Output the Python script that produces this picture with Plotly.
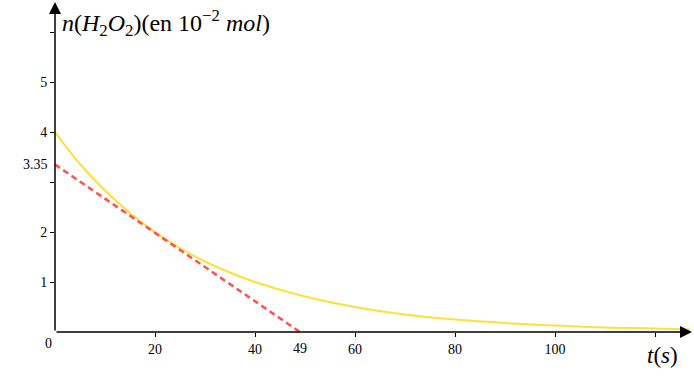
import plotly.graph_objects as go

# Data
t_curve = [0, 5, 10, 15, 20, 25, 30, 35, 40, 50, 60, 70, 80, 90, 100, 110, 120, 127]
n_curve = [4.0, 3.36, 2.83, 2.38, 2.0, 1.68, 1.41, 1.19, 1.0, 0.71, 0.5, 0.35, 0.25, 0.18, 0.13, 0.09, 0.07, 0.05]
t_tangent = [0, 49]
n_tangent = [3.35, 0]

x_ticks = [20, 40, 60, 80, 100, 120]
x_ticktext = ["20", "40", "60", "80", "100", ""]
y_ticks = [1, 2, 3, 4, 5, 6]
y_ticktext = ["1", "2", "", "4", "5", ""]

X_MAX = 127.4
Y_MAX = 6.6

SERIF = "'Liberation Serif', 'Times New Roman', 'DejaVu Serif', serif"

fig = go.Figure()
fig.add_trace(go.Scatter(x=t_curve, y=n_curve, mode="lines",
                         line=dict(color="#FFDF3C", width=2, shape="spline"),
                         hoverinfo="skip", showlegend=False))
fig.add_trace(go.Scatter(x=t_tangent, y=n_tangent, mode="lines",
                         line=dict(color="#FF4F4F", width=2.5, dash="6px,4px"),
                         hoverinfo="skip", showlegend=False))

axis_common = dict(showgrid=False, zeroline=False, showline=False,
                   ticks="outside", ticklen=4, tickwidth=1, tickcolor="black",
                   tickfont=dict(family=SERIF, size=14, color="black"))
fig.update_xaxes(range=[0, X_MAX], tickvals=x_ticks, ticktext=x_ticktext, **axis_common)
fig.update_yaxes(range=[0, Y_MAX], tickvals=y_ticks, ticktext=y_ticktext, **axis_common)

annotations = [
    # x axis with arrow
    dict(x=X_MAX, y=0, ax=0, ay=0, xref="x", yref="y", axref="x", ayref="y",
         showarrow=True, arrowhead=2, arrowsize=1.6, arrowwidth=1.5, arrowcolor="black", text=""),
    # y axis with arrow
    dict(x=0, y=Y_MAX, ax=0, ay=0, xref="x", yref="y", axref="x", ayref="y",
         showarrow=True, arrowhead=2, arrowsize=1.6, arrowwidth=1.5, arrowcolor="black", text=""),
    dict(x=0, y=0, xref="x", yref="y", text="0", showarrow=False, xshift=-7, yshift=-11,
         font=dict(family=SERIF, size=14, color="black")),
    dict(x=49, y=0, xref="x", yref="y", text="49", showarrow=False, yanchor="top", yshift=-7,
         font=dict(family=SERIF, size=14, color="black")),
    dict(x=0, y=3.35, xref="x", yref="y", text="3.35", showarrow=False, xanchor="right", xshift=-5,
         font=dict(family=SERIF, size=14, color="black")),
    dict(x=0, y=Y_MAX, xref="x", yref="y", xanchor="left", yanchor="top", xshift=5, yshift=-2,
         text="<i>n</i>(<i>H</i><sub>2</sub><i>O</i><sub>2</sub>)(en 10<sup>−2</sup> <i>mol</i>)",
         showarrow=False, font=dict(family=SERIF, size=24, color="black")),
    dict(x=X_MAX, y=0, xref="x", yref="y", xanchor="right", yanchor="top", xshift=-12, yshift=-9,
         text="<i>t</i>(<i>s</i>)", showarrow=False, font=dict(family=SERIF, size=23, color="black")),
]
fig.update_layout(width=694, height=388, margin=dict(l=55, r=2, t=2, b=56),
                  paper_bgcolor="white", plot_bgcolor="white", annotations=annotations,
                  hovermode=False)

fig.write_html("out.html", post_script="document.body.style.margin='0';",
               config={"displayModeBar": False, "staticPlot": True})
